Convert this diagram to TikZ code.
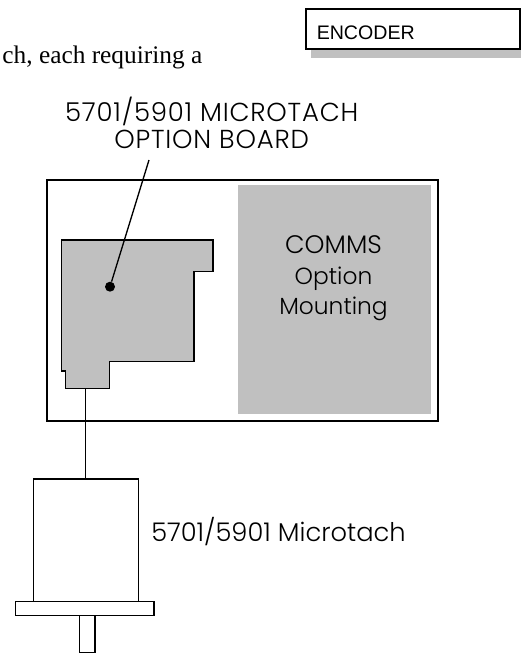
\documentclass[tikz,border=0pt]{standalone}
\usepackage{fontspec}
\setmainfont{Liberation Serif}
\newfontfamily\labelfont{Poppins Light}
\newfontfamily\titlefont[LetterSpace=3]{Poppins Light}
\newfontfamily\boxfont{Liberation Sans}
\definecolor{panel}{RGB}{192,192,192}
\tikzset{
  ln/.style={draw=black,line width=1pt},
  lab/.style={font=\labelfont\fontsize{17.5}{20}\selectfont,inner sep=0pt,anchor=base},
  caps/.style={font=\titlefont\fontsize{19.5}{22}\selectfont,inner sep=0pt,anchor=base},
}
\begin{document}
\begin{tikzpicture}[x=0.75pt,y=-0.75pt]
\useasboundingbox (0,0) rectangle (521,653);
\fill[panel] (311,49) rectangle (521,58);
\draw[ln,fill=white] (306,9) rectangle (520,49);
\node[anchor=base west,inner sep=0pt,font=\boxfont\fontsize{14.7}{16}\selectfont] (enc) at (316.5,39) {ENCODER};
\node[anchor=base east,inner sep=0pt,font=\rmfamily\fontsize{19}{22}\selectfont] (body) at (202.5,63) {ch, each requiring a};
\node[caps] (title) at (211.7,121.7) {5701/5901 MICROTACH};
\node[caps] (title2) at (211.7,148.3) {OPTION BOARD};
\draw[ln] (47,180) rectangle (438,421);
\fill[panel] (238,185) rectangle (431,414);
\node[lab,font=\labelfont\fontsize{19}{22}\selectfont] (c1) at (333.5,253.3) {COMMS};
\node[lab] (c2) at (333.5,284) {Option};
\node[lab] (c3) at (333.5,314.3) {Mounting};
\draw[ln,fill=panel] (61.7,240) -- (213,240) -- (213,271.5) -- (194,271.5) -- (194,361.7) -- (109.7,361.7) -- (109.7,388.7) -- (65.7,388.7) -- (65.7,371) -- (61.7,371) -- cycle;
\node[circle,fill=black,inner sep=0pt,minimum size=7.5pt] (dot) at (110,286.7) {};
\coordinate (ltop) at (149,160);
\draw[ln] (ltop) -- (dot);
\node[draw=black,line width=1pt,inner sep=0pt,minimum width=78.75pt,minimum height=91.8pt,anchor=north west] (motor) at (32.7,478.3) {};
\coordinate (bot) at (85.5,388.7);
\draw[ln] (bot) -- (bot |- motor.north);
\node[draw=black,line width=1pt,inner sep=0pt,minimum width=104pt,minimum height=10.7pt,anchor=north west] (flange) at (14.7,600.7) {};
\node[draw=black,line width=1pt,inner sep=0pt,minimum width=11.7pt,minimum height=27.7pt,anchor=north west] (shaft) at (78.7,615) {};
\node[lab,anchor=base west,font=\labelfont\fontsize{19.3}{22}\selectfont] (mt) at (151,541.5) {5701/5901 Microtach};
\end{tikzpicture}
\end{document}
